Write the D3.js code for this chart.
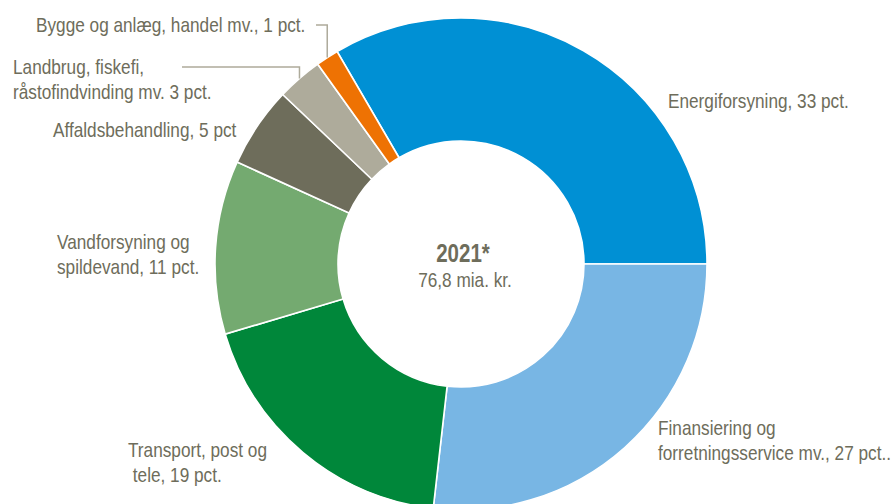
<!DOCTYPE html>
<html>
<head>
<meta charset="utf-8">
<script src="https://cdn.jsdelivr.net/npm/d3@7"></script>
<style>
  body { margin: 0; background: #fff; }
  text { font-family: "Liberation Sans", Arial, sans-serif; fill: #6e6d5b; }
</style>
</head>
<body>
<svg id="chart" width="895" height="504"></svg>
<script>
// Data
const sectors = ['Energiforsyning', 'Finansiering', 'Transport', 'Vandforsyning', 'Affald', 'Landbrug', 'Bygge']
const shares = [33.4, 26.8, 18.6, 11.4, 5.3, 3.0, 1.5]
const labelLines = [
  ['Energiforsyning, 33 pct.'],
  ['Finansiering og', 'forretningsservice mv., 27 pct..'],
  ['Transport, post og', ' tele, 19 pct.'],
  ['Vandforsyning og', 'spildevand, 11 pct.'],
  ['Affaldsbehandling, 5 pct'],
  ['Landbrug, fiskefi,', 'råstofindvinding mv. 3 pct.'],
  ['Bygge og anlæg, handel mv., 1 pct.']
]
const centerTitle = '2021*'
const centerSub = '76,8 mia. kr.'

const colors = ['#0090d4', '#78b6e4', '#00873a', '#74aa70', '#6e6d5b', '#aeab9b', '#ee7203']

// layout
const width = 895
const height = 504
const cx = 461
const cy = 264
const outerR = 246
const innerR = 123
const lineH = 25
const narrow = 0.82 // squeeze Liberation Sans to look like Arial Narrow
// label anchor (x, first baseline) per slice
const labelPos = [[668, 108], [658, 435], [128, 457], [57, 249], [53, 137], [13, 74], [36, 32]]
// leader lines: label end x, y of horizontal part
const leaders = { 5: { x1: 182, y: 67 }, 6: { x1: 316, y: 25 } }

const svg = d3.select('#chart')
const g = svg.append('g').attr('transform', `translate(${cx},${cy})`)

const total = d3.sum(shares)
const startA = Math.PI / 2 - 2 * Math.PI * shares[0] / total

const pie = d3.pie().sort(null).startAngle(startA).endAngle(startA + 2 * Math.PI)
const arcs = pie(shares)
const arc = d3.arc().innerRadius(innerR).outerRadius(outerR)

g.selectAll('path').data(arcs)
  .enter().append('path')
  .attr('d', arc)
  .attr('fill', (d, i) => colors[i])
  .attr('stroke', '#fff')
  .attr('stroke-width', 1.6)

// leader lines for the small slices
Object.keys(leaders).forEach(k => {
  const d = arcs[+k]
  const a = (d.startAngle + d.endAngle) / 2
  const px = cx + outerR * Math.sin(a)
  const py = cy - outerR * Math.cos(a)
  svg.append('polyline')
    .attr('points', `${leaders[k].x1},${leaders[k].y} ${px},${leaders[k].y} ${px},${py}`)
    .attr('fill', 'none')
    .attr('stroke', '#aeab9b')
    .attr('stroke-width', 1.5)
})

function narrowText(x, y, lines, size, anchor, weight) {
  const t = svg.append('text')
    .attr('transform', `translate(${x},${y}) scale(${narrow},1)`)
    .attr('text-anchor', anchor || 'start')
    .attr('xml:space', 'preserve')
    .style('font-size', size + 'px')
    .style('font-weight', weight || 'normal')
  lines.forEach((l, j) => {
    t.append('tspan')
      .attr('x', 0)
      .attr('y', j * lineH)
      .text(l)
  })
}

// labels
labelLines.forEach((lines, i) => {
  narrowText(labelPos[i][0], labelPos[i][1], lines, 21)
})

// center text
narrowText(cx + 2, cy - 2, [centerTitle], 25, 'middle', 'bold')
narrowText(cx + 4, cy + 23, [centerSub], 21, 'middle')
</script>
</body>
</html>
